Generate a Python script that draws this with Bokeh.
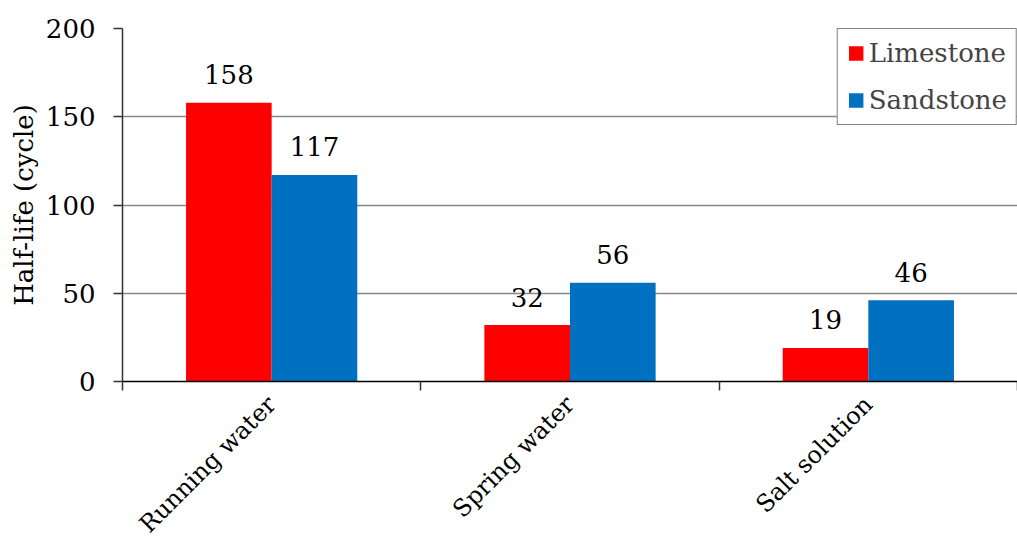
import math
from bokeh.plotting import figure
from bokeh.models import ColumnDataSource, FixedTicker, Range1d, Legend, LegendItem
from bokeh.core.properties import value
from bokeh.embed import file_html
from bokeh.resources import INLINE

categories = ["Running water", "Spring water", "Salt solution"]
limestone = [158, 32, 19]
sandstone = [117, 56, 46]
series_names = ["Limestone", "Sandstone"]
y_ticks = [0, 50, 100, 150, 200]

FONT = "DejaVu Serif"
FS = "26px"
FSX = "24px"
RED = "#FF0000"
BLUE = "#0070C0"
BW = 0.287

centers = [i + 0.5 for i in range(len(categories))]
src_l = ColumnDataSource(dict(x=[c - BW / 2 for c in centers], top=limestone,
                              lab=[str(v) for v in limestone]))
src_s = ColumnDataSource(dict(x=[c + BW / 2 for c in centers], top=sandstone,
                              lab=[str(v) for v in sandstone]))

p = figure(width=1017, height=551, output_backend="svg", toolbar_location=None,
           x_range=Range1d(0, len(categories)), y_range=Range1d(0, 200),
           min_border_left=122, min_border_right=0, min_border_top=28, min_border_bottom=168)
p.outline_line_color = None
p.background_fill_color = "white"
p.border_fill_color = "white"

r1 = p.vbar(x="x", top="top", width=BW, bottom=0, source=src_l, fill_color=RED, line_color=None)
r2 = p.vbar(x="x", top="top", width=BW, bottom=0, source=src_s, fill_color=BLUE, line_color=None)

for src in (src_l, src_s):
    p.text(x="x", y="top", text="lab", source=src, text_align="center",
           text_baseline="alphabetic", y_offset=-28, text_font=value(FONT),
           text_font_size=FS, text_color="black")

# y axis
p.yaxis.ticker = FixedTicker(ticks=y_ticks)
p.yaxis.axis_label = "Half-life (cycle)"
p.yaxis.axis_label_text_font = FONT
p.yaxis.axis_label_text_font_style = "normal"
p.yaxis.axis_label_text_font_size = FS
p.yaxis.axis_label_text_color = "black"
p.yaxis.axis_label_standoff = 4
p.yaxis.major_label_text_font = FONT
p.yaxis.major_label_text_font_size = FS
p.yaxis.major_label_text_color = "black"
p.yaxis.major_label_standoff = 18
p.yaxis.major_tick_in = 0
p.yaxis.major_tick_out = 9
p.yaxis.minor_tick_line_color = None
p.yaxis.axis_line_color = "#333333"
p.yaxis.axis_line_width = 1.5
p.yaxis.major_tick_line_color = "#333333"
p.yaxis.major_tick_line_width = 1.5

# x axis: labels at centers, ticks at boundaries (minor ticks)
p.xaxis.ticker = FixedTicker(ticks=centers, minor_ticks=list(range(len(categories) + 1)))
p.xaxis.major_label_overrides = {c: name for c, name in zip(centers, categories)}
p.xaxis.major_label_orientation = math.pi / 4
p.xaxis.major_label_text_font = FONT
p.xaxis.major_label_text_font_size = FSX
p.xaxis.major_label_text_color = "black"
p.xaxis.major_label_standoff = 10
p.xaxis.major_tick_line_color = None
p.xaxis.minor_tick_in = 0
p.xaxis.minor_tick_out = 9
p.xaxis.minor_tick_line_color = "#333333"
p.xaxis.minor_tick_line_width = 1.5
p.xaxis.axis_line_color = "black"
p.xaxis.axis_line_width = 1.5

p.xgrid.grid_line_color = None
p.ygrid.ticker = FixedTicker(ticks=y_ticks)
p.ygrid.grid_line_color = "#888888"
p.ygrid.grid_line_width = 1.5

legend = Legend(items=[LegendItem(label=series_names[0], renderers=[r1]),
                       LegendItem(label=series_names[1], renderers=[r2])],
                location="top_right", margin=0, padding=9, spacing=17,
                label_text_font=FONT, label_text_font_size=FS,
                glyph_width=18, glyph_height=18, label_standoff=4,
                border_line_color="black", border_line_width=1.5,
                background_fill_alpha=1.0)
p.add_layout(legend)

open("out.html", "w").write(file_html(p, INLINE))
